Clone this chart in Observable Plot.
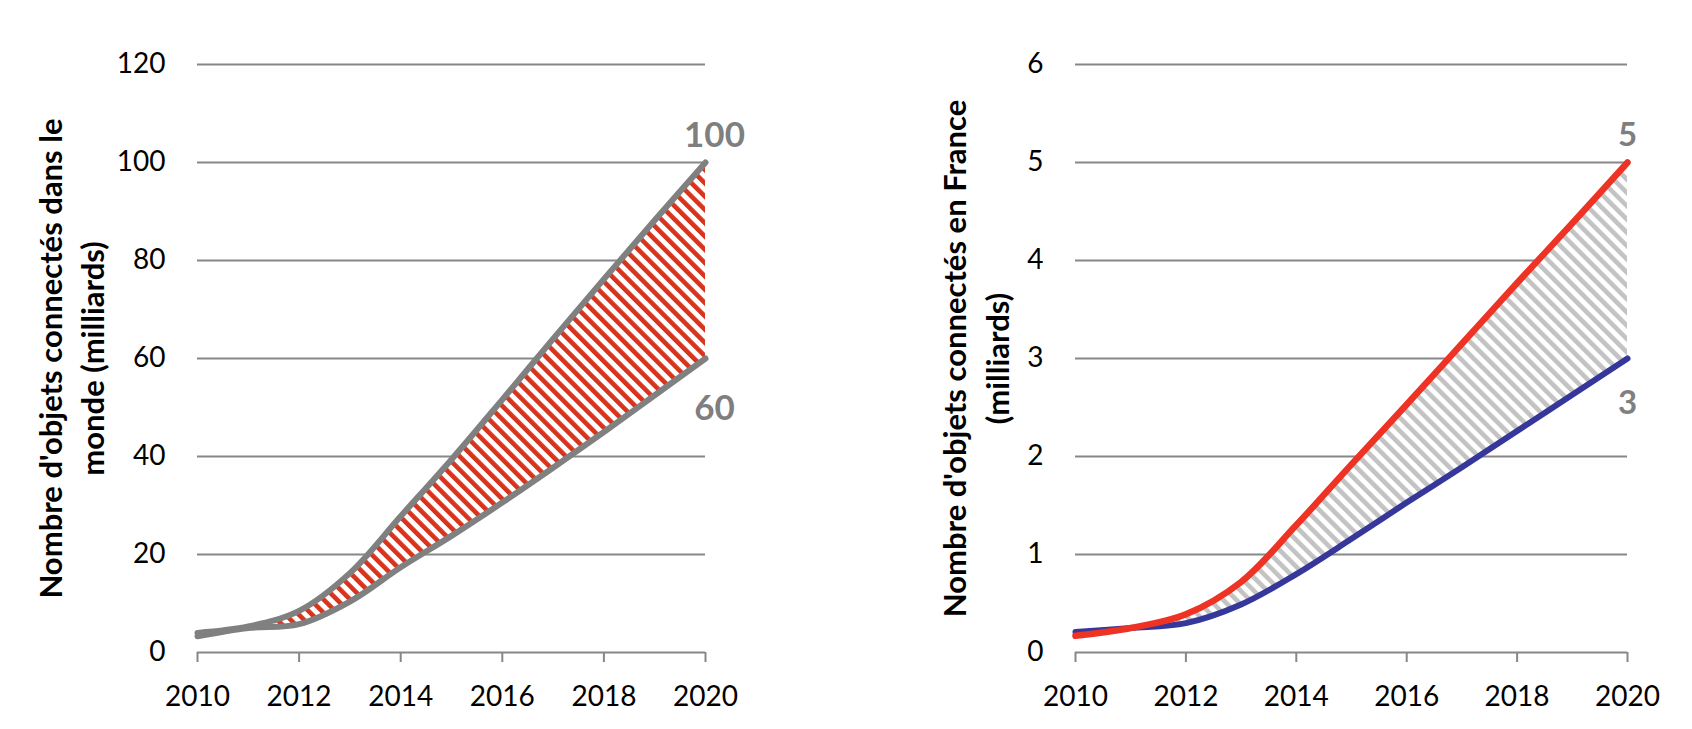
<!DOCTYPE html>
<html>
<head>
<meta charset="utf-8">
<script src="https://cdn.jsdelivr.net/npm/d3@7"></script>
<script src="https://cdn.jsdelivr.net/npm/@observablehq/plot@0.6"></script>
<style>
  html, body { margin: 0; padding: 0; background: #fff; }
  #wrap { display: flex; width: 1692px; height: 729px; }
  #wrap svg { display: block; }
</style>
</head>
<body>
<div id="wrap"></div>
<script>
// ---- data ----
const years = [2010, 2011, 2012, 2013, 2014, 2015, 2016, 2017, 2018, 2019, 2020];
const mondeHaut = [4.0, 5.3, 8.5, 16.2, 27.8, 39.4, 51.6, 64.0, 76.2, 88.2, 100];
const mondeBas  = [3.3, 5.0, 5.8, 10.4, 17.4, 23.8, 30.6, 37.7, 45.0, 52.5, 60];
const franceHaut = [0.17, 0.25, 0.39, 0.72, 1.30, 1.92, 2.53, 3.15, 3.77, 4.38, 5];
const franceBas  = [0.21, 0.25, 0.30, 0.49, 0.80, 1.16, 1.53, 1.89, 2.26, 2.63, 3];
const xTicks = [2010, 2012, 2014, 2016, 2018, 2020];
const yTicksMonde = [0, 20, 40, 60, 80, 100, 120];
const yTicksFrance = [0, 1, 2, 3, 4, 5, 6];
const titreMonde = ["Nombre d'objets connectés dans le", "monde (milliards)"];
const titreFrance = ["Nombre d'objets connectés en France", "(milliards)"];
const labelsMonde = [{year: 2020, v: 100, t: "100", pos: "top"}, {year: 2020, v: 60, t: "60", pos: "bottom"}];
const labelsFrance = [{year: 2020, v: 5, t: "5", pos: "top"}, {year: 2020, v: 3, t: "3", pos: "bottom"}];

const monde = years.map((y, i) => ({year: y, haut: mondeHaut[i], bas: mondeBas[i]}));
const france = years.map((y, i) => ({year: y, haut: franceHaut[i], bas: franceBas[i]}));

const GRID = "#878787";
const LINEGRAY = "#808080";
const LABELGRAY = "#7f7f7f";

function makeChart({data, yDomain, yTicks, title, labels, hatchId, hatchColor, upperColor, lowerColor,
                    upperWidth, lowerWidth, width, mLeft, mRight, titleX, labelDx, labelDy, labelSize}) {
  const mTop = 64, mBottom = 77;
  const svg = Plot.plot({
    width, height: 729,
    marginLeft: mLeft, marginRight: mRight, marginTop: mTop, marginBottom: mBottom,
    style: {fontFamily: "Lato, 'Open Sans', sans-serif", fontSize: "28px", color: "#000", background: "#fff", overflow: "visible"},
    x: {domain: [2010, 2020]},
    y: {domain: yDomain},
    marks: [
      Plot.gridY(yTicks.filter(d => d !== 0), {stroke: GRID, strokeOpacity: 1, strokeWidth: 2}),
      Plot.axisY(yTicks, {tickSize: 0, tickPadding: 32, label: null, fontSize: 28, tickFormat: d => String(d)}),
      Plot.axisX(xTicks, {tickSize: 10, tickPadding: 24, label: null, stroke: GRID, strokeWidth: 2, fontSize: 28, tickFormat: d => String(d)}),
      Plot.ruleY([0], {stroke: GRID, strokeWidth: 2}),
      Plot.areaY(data, {x: "year", y1: "bas", y2: "haut", curve: "catmull-rom", fill: `url(#${hatchId})`}),
      Plot.line(data, {x: "year", y: "bas", curve: "catmull-rom", stroke: lowerColor, strokeWidth: lowerWidth}),
      Plot.line(data, {x: "year", y: "haut", curve: "catmull-rom", stroke: upperColor, strokeWidth: upperWidth}),
      Plot.text(labels, {x: "year", y: "v", text: "t", fill: LABELGRAY, fontWeight: "bold", fontSize: labelSize,
        filter: d => d.pos === "top", dx: labelDx, dy: labelDy[0]}),
      Plot.text(labels, {x: "year", y: "v", text: "t", fill: LABELGRAY, fontWeight: "bold", fontSize: labelSize,
        filter: d => d.pos === "bottom", dx: labelDx, dy: labelDy[1]}),
      Plot.text([title[0]], {frameAnchor: "left", text: d => d, rotate: -90, dx: titleX[0] - mLeft,
        textAnchor: "middle", lineAnchor: "middle", fontWeight: "bold", fontSize: 31, fill: "#000"}),
      Plot.text([title[1]], {frameAnchor: "left", text: d => d, rotate: -90, dx: titleX[1] - mLeft,
        textAnchor: "middle", lineAnchor: "middle", fontWeight: "bold", fontSize: 31, fill: "#000"})
    ]
  });
  const defs = d3.select(svg).insert("defs", ":first-child");
  const P = 9.4;
  const p = defs.append("pattern")
    .attr("id", hatchId)
    .attr("patternUnits", "userSpaceOnUse")
    .attr("width", P).attr("height", P)
    .attr("patternTransform", "rotate(-45)");
  p.append("rect").attr("width", P).attr("height", P).attr("fill", "#fff");
  p.append("rect").attr("x", 0).attr("width", 4.6).attr("height", P).attr("fill", hatchColor);
  return svg;
}

const wrap = document.getElementById("wrap");
wrap.appendChild(makeChart({
  data: monde, yDomain: [0, 120], yTicks: yTicksMonde, title: titreMonde, labels: labelsMonde,
  hatchId: "hatchRed", hatchColor: "#d8341d", upperColor: LINEGRAY, lowerColor: LINEGRAY,
  upperWidth: 6, lowerWidth: 6,
  width: 846, mLeft: 197, mRight: 141, titleX: [52, 94], labelDx: 9, labelDy: [-27, 50], labelSize: 35
}));
wrap.appendChild(makeChart({
  data: france, yDomain: [0, 6], yTicks: yTicksFrance, title: titreFrance, labels: labelsFrance,
  hatchId: "hatchGray", hatchColor: "#c3c3c3", upperColor: "#ee3224", lowerColor: "#36379b",
  upperWidth: 6.5, lowerWidth: 6,
  width: 846, mLeft: 229, mRight: 65, titleX: [956 - 846, 999 - 846], labelDx: 0, labelDy: [-27, 45], labelSize: 33
}));
</script>
</body>
</html>
